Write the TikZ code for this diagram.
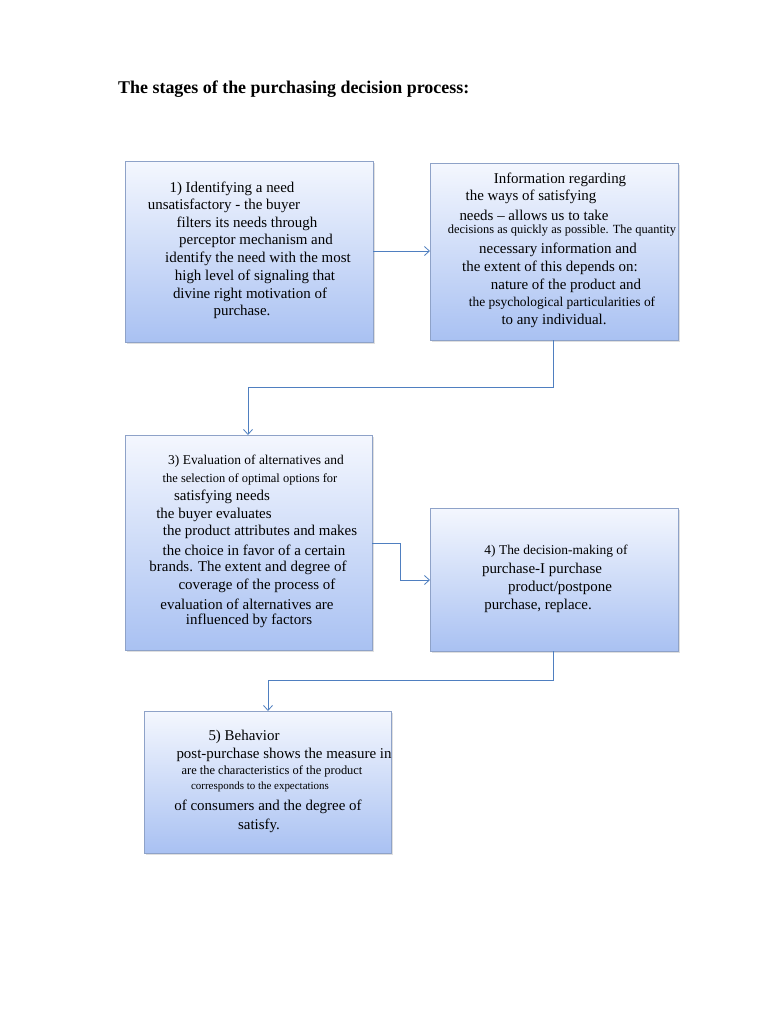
\documentclass[tikz,border=0pt]{standalone}
\usepackage{fontspec}
\setmainfont{Liberation Serif}
\usetikzlibrary{arrows.meta,shadows}
\definecolor{bord}{HTML}{8EA2C8}
\definecolor{boxtop}{HTML}{F4F7FE}
\definecolor{boxbot}{HTML}{A9C1F2}
\definecolor{link}{HTML}{4F7FC0}
\begin{document}
\begin{tikzpicture}[x=1bp,y=-1bp,
  box/.style={draw=bord,line width=0.8bp,top color=boxtop,bottom color=boxbot,drop shadow={shadow xshift=2bp,shadow yshift=-2bp,opacity=0.25}},
  t/.style={inner sep=0pt,font=\fontsize{15}{17}\selectfont},
  s/.style={inner sep=0pt,font=\fontsize{12.5}{14}\selectfont},
  m/.style={inner sep=0pt,font=\fontsize{13.5}{15}\selectfont},
  xs/.style={inner sep=0pt,font=\fontsize{11}{13}\selectfont},
  arr/.style={draw=link,line width=0.8bp,-{Straight Barb[length=5bp,width=9bp]}}]
\useasboundingbox[fill=white] (0,0) rectangle (768,1024);
\node[anchor=west,inner sep=0pt,font=\fontsize{18}{20}\selectfont\bfseries] (title) at (118,89) {The stages of the purchasing decision process:};
\path[box] (125,161) rectangle (373,342);
\path[box] (430,163) rectangle (678,340);
\path[box] (125,435) rectangle (372,650);
\path[box] (430,508) rectangle (678,651);
\path[box] (144,711) rectangle (391,853);
\coordinate (b1r) at (373,251); \coordinate (b2l) at (430,251);
\coordinate (b2b) at (553,340); \coordinate (b3t) at (248,435);
\coordinate (b3r) at (372,543); \coordinate (b4l) at (430,580);
\coordinate (b4b) at (553,651); \coordinate (b5t) at (268,711);
\draw[arr] (b1r) -- (b2l);
\draw[arr] (b2b) -- (553,387) -- (248,387) -- (b3t);
\draw[arr] (b3r) -- (400,543) -- (400,580) -- (b4l);
\draw[arr] (b4b) -- (553,680) -- (268,680) -- (b5t);
% box 1
\node[t] (a1) at (232,189) {1) Identifying a need};
\node[t] (a2) at (224,206) {unsatisfactory - the buyer};
\node[t] (a3) at (247,224) {filters its needs through};
\node[t] (a4) at (256,241) {perceptor mechanism and};
\node[t] (a5) at (258,259) {identify the need with the most};
\node[t] (a6) at (255,277) {high level of signaling that};
\node[t] (a7) at (250,295) {divine right motivation of};
\node[t] (a8) at (242,312) {purchase.};
% box 2
\node[t] (c1) at (560,180) {Information regarding};
\node[t] (c2) at (531,197) {the ways of satisfying};
\node[t] (c3) at (534,215) {needs – allows us to take};
\node[s] (c4) at (562,231) {decisions as quickly as possible. The quantity};
\node[t] (c5) at (558,250) {necessary information and};
\node[t] (c6) at (550,268) {the extent of this depends on:};
\node[t] (c7) at (566,286) {nature of the product and};
\node[m] (c8) at (562,303) {the psychological particularities of};
\node[t] (c9) at (554,321) {to any individual.};
% box 3
\node[m] (d1) at (256,461) {3) Evaluation of alternatives and};
\node[s] (d2) at (250,479) {the selection of optimal options for};
\node[t] (d3) at (222,497) {satisfying needs};
\node[t] (d4) at (214,515) {the buyer evaluates};
\node[t] (d5) at (260,532) {the product attributes and makes};
\node[t] (d6) at (254,550) {the choice in favor of a certain};
\node[t] (d7) at (248,568) {brands. The extent and degree of};
\node[t] (d8) at (257,586) {coverage of the process of};
\node[t] (d9) at (247,604) {evaluation of alternatives are};
\node[t] (d10) at (249,621) {influenced by factors};
% box 4
\node[m] (e1) at (556,551) {4) The decision-making of};
\node[t] (e2) at (542,570) {purchase-I purchase};
\node[t] (e3) at (560,588) {product/postpone};
\node[t] (e4) at (538,606) {purchase, replace.};
% box 5
\node[t] (f1) at (244,737) {5) Behavior};
\node[t] (f2) at (284,755) {post-purchase shows the measure in};
\node[s] (f3) at (272,771) {are the characteristics of the product};
\node[xs] (f4) at (260,787) {corresponds to the expectations};
\node[t] (f5) at (268,807) {of consumers and the degree of};
\node[t] (f6) at (259,826) {satisfy.};
\end{tikzpicture}
\end{document}
